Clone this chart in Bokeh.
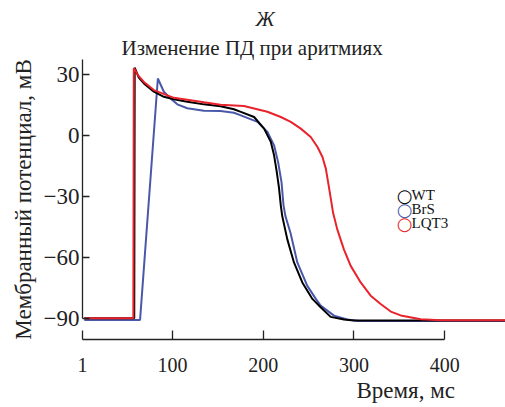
from bokeh.plotting import figure
from bokeh.models import Range1d, FixedTicker, Label, Title
from bokeh.embed import file_html
from bokeh.resources import INLINE

# ---- data ----
t_wt = [3, 58, 58.5, 63, 68.6, 79.6, 90.6, 101.6, 116.4, 134.7, 153, 167.8, 175.4,
        190, 201, 208.4, 212, 215, 217.5, 219.4, 221, 226.6, 233.9, 243.1, 254.2,
        263.3, 274.3, 289, 300, 470]
v_wt = [-89.7, -89.7, 33.2, 28.3, 25.5, 21.4, 18.9, 17.7, 16.5, 15.2, 14.3, 12.8, 11.5,
        9.0, 3.3, -3.2, -9.8, -18, -26, -34.3, -39.6, -51, -62.3, -72.1, -80.2,
        -84.3, -89.0, -90.3, -90.8, -90.8]

t_brs = [3, 64.4, 84, 90.6, 98, 105.4, 116.4, 134.7, 153, 167.8, 175.4, 193.7, 204.7,
         212, 216.4, 220.2, 222.4, 224.5, 230.2, 237.6, 248.6, 258, 263.3, 278, 292.7,
         305, 470]
v_brs = [-90.5, -90.5, 27.9, 21.4, 18.1, 15.2, 13.3, 12.1, 12.0, 11.1, 9.8, 6.6, 1.7,
         -4.9, -13, -22.9, -34.3, -39.6, -48, -62.3, -73.8, -80.2, -83.5, -88.4, -90.3,
         -91, -91]

t_lqt = [3, 57, 57.5, 63, 68.6, 79.6, 101.6, 134.7, 153, 178.8, 204.6, 219.4, 230.4,
         241.4, 252.4, 259.8, 265.3, 269, 271.5, 274.5, 277, 281.6, 288.9, 296.4, 307.4,
         318.4, 329.4, 340.5, 351.5, 373.5, 395, 470]
v_lqt = [-89.7, -89.7, 33, 29, 26.2, 22.2, 18.4, 16.2, 15.0, 14.4, 11.6, 9.0, 6.6,
         3.3, -0.8, -5.7, -10.6, -16.3, -22.9, -31, -38, -46.1, -55.9, -64, -72.1,
         -78.6, -82.7, -86.4, -88.3, -90.2, -90.7, -90.7]

series_names = ["WT", "BrS", "LQT3"]
series_colors = ["#000000", "#4a58aa", "#e8232b"]

x_ticks = [1, 100, 200, 300, 400]
x_tick_labels = ["1", "100", "200", "300", "400"]
y_ticks = [-90, -60, -30, 0, 30]
y_tick_labels = ["\u221290", "\u221260", "\u221230", "0", "30"]

title_text = "Изменение ПД при аритмиях"
panel_letter = "Ж"
x_label = "Время, мс"
y_label = "Мембранный потенциал, мВ"

FONT = "Liberation Serif"
INK = "#222222"

p = figure(width=505, height=407, output_backend="svg", toolbar_location=None,
           x_range=Range1d(1, 466.9), y_range=Range1d(-100.1, 37.2),
           min_border_left=82, min_border_right=0, min_border_top=59,
           min_border_bottom=68)
p.title = None
p.outline_line_color = None
p.xgrid.grid_line_color = None
p.ygrid.grid_line_color = None
p.background_fill_color = "white"
p.border_fill_color = "white"

# axes
xa = p.xaxis[0]
xa.ticker = FixedTicker(ticks=x_ticks)
xa.major_label_overrides = dict(zip(x_ticks, x_tick_labels))
xa.bounds = (x_ticks[0], x_ticks[-1])
xa.major_tick_in = 9
xa.major_tick_out = 0
xa.minor_tick_line_color = None
xa.major_label_standoff = 18
xa.major_label_text_font = FONT
xa.major_label_text_font_size = "20px"
xa.major_label_text_color = INK
xa.axis_line_color = INK
xa.major_tick_line_color = INK
xa.axis_line_width = 1.3
xa.major_tick_line_width = 1.3

ya = p.yaxis[0]
ya.ticker = FixedTicker(ticks=y_ticks)
ya.major_label_overrides = dict(zip(y_ticks, y_tick_labels))
ya.bounds = (y_ticks[0], 37.2)
ya.major_tick_in = 7
ya.major_tick_out = 0
ya.minor_tick_line_color = None
ya.major_label_standoff = 3
ya.major_label_text_font = FONT
ya.major_label_text_font_size = "23px"
ya.major_label_text_color = INK
ya.axis_line_color = INK
ya.major_tick_line_color = INK
ya.axis_line_width = 1.3
ya.major_tick_line_width = 1.3
ya.axis_label = y_label
ya.axis_label_text_font = FONT
ya.axis_label_text_font_size = "23px"
ya.axis_label_text_font_style = "normal"
ya.axis_label_text_color = INK
ya.axis_label_standoff = 5

# curves
p.line(t_brs, v_brs, line_color=series_colors[1], line_width=2)
p.line(t_wt, v_wt, line_color=series_colors[0], line_width=2)
p.line(t_lqt, v_lqt, line_color=series_colors[2], line_width=2)

# legend: open-circle symbol + name, row by row
legend_rows_y = [144, 130, 116]
for name, c, ly in zip(series_names, series_colors, legend_rows_y):
    p.add_layout(Label(x=322, y=ly, x_units="screen", y_units="screen", text="\u25cb",
                       text_font="DejaVu Sans", text_font_size="18px",
                       text_font_style="bold", text_color=c, text_align="center",
                       text_baseline="middle"))
    p.add_layout(Label(x=329, y=ly + 1, x_units="screen", y_units="screen", text=name,
                       text_font=FONT, text_font_size="15px", text_color="#111111",
                       text_align="left", text_baseline="middle"))

# titles
t1 = Title(text=title_text, align="left", offset=39, text_font=FONT,
           text_font_size="21px", text_font_style="normal", text_color=INK,
           standoff=0)
p.add_layout(t1, "above")
t2 = Title(text=panel_letter, align="left", offset=173, text_font=FONT,
           text_font_size="21px", text_font_style="italic", text_color=INK,
           standoff=5)
p.add_layout(t2, "above")

tx = Title(text=x_label, align="left", offset=274, text_font=FONT,
           text_font_size="23px", text_font_style="normal", text_color=INK,
           standoff=3)
p.add_layout(tx, "below")

open("out.html", "w").write(file_html(p, INLINE))
